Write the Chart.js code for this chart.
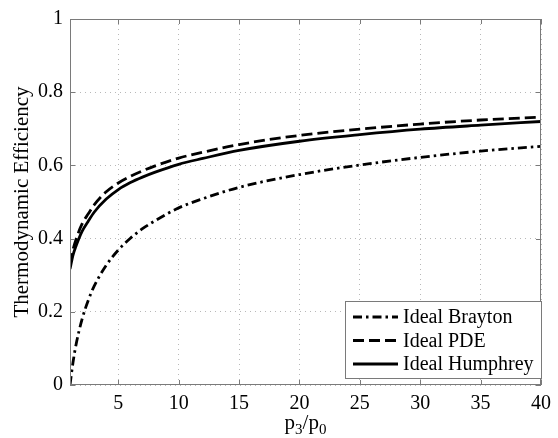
<!DOCTYPE html>
<html>
<head>
<meta charset="utf-8">
<style>
  html, body { margin: 0; padding: 0; background: #fff; }
  #wrap { width: 558px; height: 438px; }
</style>
</head>
<body>
<div id="wrap"><canvas id="chart" width="558" height="438"></canvas></div>
<script src="https://cdn.jsdelivr.net/npm/chart.js@4.4.0/dist/chart.umd.min.js"></script>
<script>
// values
const pressureRatio = [1, 1.25, 1.5, 2, 2.5, 3, 4, 5, 6, 7, 8, 10, 12, 15, 20, 25, 30, 35, 40];
const braytonEff  = [0, 0.062, 0.11, 0.18, 0.23, 0.27, 0.327, 0.369, 0.401, 0.427, 0.448, 0.484, 0.509, 0.54, 0.575, 0.601, 0.622, 0.639, 0.652];
const pdeEff      = [0.33, 0.37, 0.398, 0.44, 0.467, 0.492, 0.528, 0.552, 0.57, 0.585, 0.598, 0.62, 0.636, 0.657, 0.682, 0.699, 0.713, 0.724, 0.732];
const humphreyEff = [0.317, 0.355, 0.38, 0.42, 0.447, 0.472, 0.508, 0.534, 0.553, 0.568, 0.581, 0.603, 0.619, 0.641, 0.666, 0.684, 0.699, 0.71, 0.72];

const seriesNames = ['Ideal Brayton', 'Ideal PDE', 'Ideal Humphrey'];
const xTicks = [5, 10, 15, 20, 25, 30, 35, 40];
const yTicks = [0, 0.2, 0.4, 0.6, 0.8, 1];
const yTickLabels = ['0', '0.2', '0.4', '0.6', '0.8', '1'];

const serif = '"Liberation Serif", "Times New Roman", serif';
const axisGray = '#7a7a7a';

function pts(ys) {
    return pressureRatio.map((x, i) => ({ x: x, y: ys[i] }));
}

// box, inward ticks, legend and axis titles, matlab style
const frame = {
    id: 'frame',
    afterDraw(chart) {
        const ctx = chart.ctx;
        const a = chart.chartArea;
        const xs = chart.scales.x, ys = chart.scales.y;
        ctx.save();
        ctx.strokeStyle = axisGray;
        ctx.lineWidth = 1;
        ctx.setLineDash([]);
        ctx.strokeRect(a.left + 0.5, a.top + 0.5, a.right - a.left - 1, a.bottom - a.top - 1);

        const tl = 5;
        ctx.beginPath();
        xTicks.forEach(v => {
            const px = Math.round(xs.getPixelForValue(v)) + 0.5;
            ctx.moveTo(px, a.bottom); ctx.lineTo(px, a.bottom - tl);
            ctx.moveTo(px, a.top); ctx.lineTo(px, a.top + tl);
        });
        yTicks.forEach(v => {
            const py = Math.round(ys.getPixelForValue(v)) + 0.5;
            ctx.moveTo(a.left, py); ctx.lineTo(a.left + tl, py);
            ctx.moveTo(a.right, py); ctx.lineTo(a.right - tl, py);
        });
        ctx.stroke();

        // legend
        const lx = 345, ly = 301, lw = 196, lh = 77;
        ctx.fillStyle = '#fff';
        ctx.fillRect(lx, ly, lw, lh);
        ctx.strokeStyle = axisGray;
        ctx.strokeRect(lx + 0.5, ly + 0.5, lw, lh);
        ctx.font = '20px ' + serif;
        ctx.textBaseline = 'middle';
        ctx.textAlign = 'left';
        chart.data.datasets.forEach((ds, i) => {
            const y = ly + 16 + i * 23.5;
            ctx.strokeStyle = '#000';
            ctx.lineWidth = ds.borderWidth;
            ctx.setLineDash(ds.borderDash || []);
            ctx.beginPath();
            ctx.moveTo(lx + 8, y);
            ctx.lineTo(lx + 53, y);
            ctx.stroke();
            ctx.fillStyle = '#000';
            ctx.fillText(ds.label, lx + 58, y + 1);
        });
        ctx.setLineDash([]);

        // y title
        ctx.save();
        ctx.translate(22, (a.top + a.bottom) / 2);
        ctx.rotate(-Math.PI / 2);
        ctx.textAlign = 'center';
        ctx.textBaseline = 'middle';
        ctx.font = '21px ' + serif;
        ctx.fillText('Thermodynamic Efficiency', 0, 0);
        ctx.restore();

        // x title p3/p0 with subscripts
        const parts = [['p', 21, 0], ['3', 15, 5], ['/p', 21, 0], ['0', 15, 5]];
        let total = 0;
        parts.forEach(p => { ctx.font = p[1] + 'px ' + serif; total += ctx.measureText(p[0]).width; });
        let cx = (a.left + a.right) / 2 - total / 2;
        ctx.textAlign = 'left';
        ctx.textBaseline = 'alphabetic';
        parts.forEach(p => {
            ctx.font = p[1] + 'px ' + serif;
            ctx.fillText(p[0], cx, 429 + p[2]);
            cx += ctx.measureText(p[0]).width;
        });
        ctx.restore();
    }
};

new Chart(document.getElementById('chart').getContext('2d'), {
    type: 'line',
    data: {
        datasets: [{
            label: seriesNames[0],
            data: pts(braytonEff),
            borderColor: '#000',
            borderWidth: 2.8,
            borderDash: [9, 4, 2.5, 4],
            pointRadius: 0,
            cubicInterpolationMode: 'monotone',
            fill: false
        }, {
            label: seriesNames[1],
            data: pts(pdeEff),
            borderColor: '#000',
            borderWidth: 2.8,
            borderDash: [11, 5],
            pointRadius: 0,
            cubicInterpolationMode: 'monotone',
            fill: false
        }, {
            label: seriesNames[2],
            data: pts(humphreyEff),
            borderColor: '#000',
            borderWidth: 2.8,
            pointRadius: 0,
            cubicInterpolationMode: 'monotone',
            fill: false
        }]
    },
    options: {
        responsive: false,
        animation: false,
        devicePixelRatio: 1,
        layout: { padding: { top: 14, right: 10, left: 0, bottom: 0 } },
        plugins: { legend: { display: false }, tooltip: { enabled: false } },
        scales: {
            x: {
                type: 'linear',
                min: 1,
                max: 40,
                afterBuildTicks: s => { s.ticks = xTicks.map(v => ({ value: v })); },
                afterFit: s => { s.height = 53; },
                grid: { color: '#b8b8b8', drawTicks: false },
                border: { display: false, dash: [1, 4] },
                ticks: { color: '#000', padding: 7, font: { family: serif, size: 20 }, maxRotation: 0 }
            },
            y: {
                min: 0,
                max: 1,
                afterBuildTicks: s => { s.ticks = yTicks.map(v => ({ value: v })); },
                afterFit: s => { s.width = 70; },
                grid: { color: '#b8b8b8', drawTicks: false },
                border: { display: false, dash: [1, 4] },
                ticks: {
                    color: '#000', padding: 7, font: { family: serif, size: 20 },
                    callback: v => yTickLabels[yTicks.indexOf(v)]
                }
            }
        }
    },
    plugins: [frame]
});
</script>
</body>
</html>
